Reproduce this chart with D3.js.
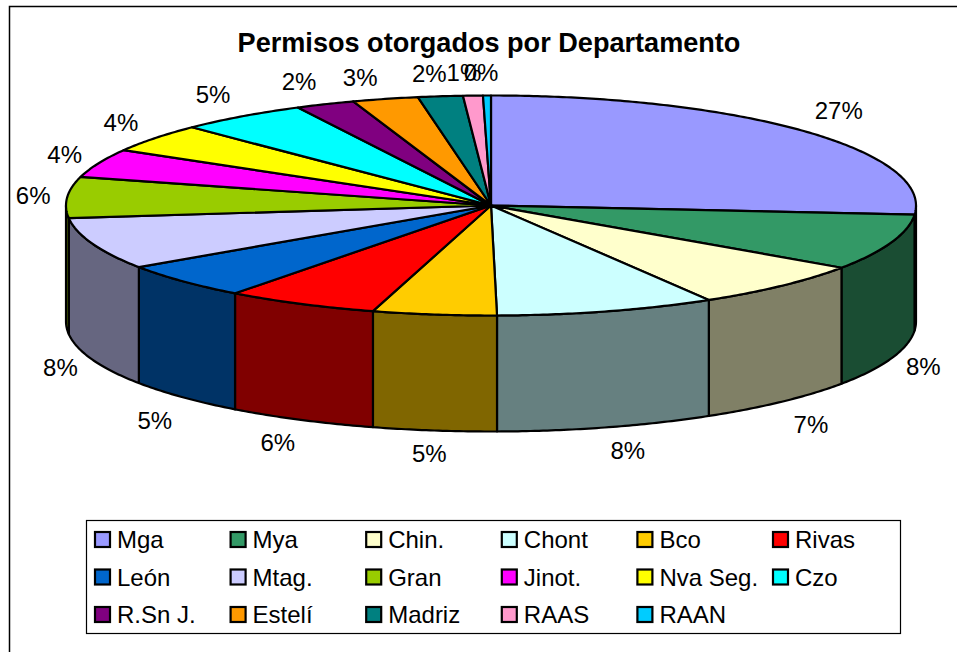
<!DOCTYPE html>
<html>
<head>
<meta charset="utf-8">
<style>
	html, body { margin: 0; padding: 0; background: #fff; overflow: hidden; }
	text { font-family: "Liberation Sans", Arial, sans-serif; fill: #000; }
</style>
<script src="https://cdn.jsdelivr.net/npm/d3@7"></script>
</head>
<body>
<svg id="chart" width="957" height="652"></svg>
<script>
var title = "Permisos otorgados por Departamento";

var categories = ["Mga", "Mya", "Chin.", "Chont", "Bco", "Rivas", "León", "Mtag.", "Gran", "Jinot.", "Nva Seg.", "Czo", "R.Sn J.", "Estelí", "Madriz", "RAAS", "RAAN"];
var values = [26.3, 8.23, 6.86, 8.33, 4.7, 5.8, 5.25, 7.62, 6.0, 4.2, 4.2, 4.9, 2.25, 2.5, 1.7, 0.75, 0.3];
var valueLabels = ["27%", "8%", "7%", "8%", "5%", "6%", "5%", "8%", "6%", "4%", "4%", "5%", "2%", "3%", "2%", "1%", "0%"];
var topColors = ["#9999ff", "#339966", "#ffffcc", "#ccffff", "#ffcc00", "#ff0000", "#0066cc", "#ccccff", "#99cc00", "#ff00ff", "#ffff00", "#00ffff", "#800080", "#ff9900", "#008080", "#ff99cc", "#00ccff"];

// label offset from the rim point of each slice
var labelOffsets = [[35, -20], [32, 8], [29, 23], [21, 23], [-5, 23], [-23, 23], [-28, 23], [-32, 8], [-34, -2], [-34, -9], [-34, -16], [-29, -22], [-26, -23], [-25, -21], [-11, -23], [-9, -23], [-6, -23]];

var svg = d3.select("#chart");

var cx = 491, cy = 205.5, rx = 425, ry = 110, depth = 116;
var xPos = d3.scaleLinear().domain([-1, 1]).range([cx - rx, cx + rx]);
var yPos = d3.scaleLinear().domain([-1, 1]).range([cy - ry, cy + ry]);

var slices = d3.pie().sort(null).value(function (d) { return d; })(values);

function rim(a, drop) {
	return [xPos(Math.sin(a)), yPos(-Math.cos(a)) + drop];
}

function arcPoints(a0, a1, drop) {
	var n = Math.max(2, Math.ceil((a1 - a0) / 0.01));
	return d3.range(n + 1).map(function (i) {
		return rim(a0 + (a1 - a0) * i / n, drop);
	});
}

function halfTone(c) {
	var rgb = d3.rgb(c);
	return d3.rgb(rgb.r / 2, rgb.g / 2, rgb.b / 2).formatHex();
}

var line = d3.line();

// frame
svg.append("path")
	.attr("d", "M9.5,652V6.5H957")
	.attr("fill", "none")
	.attr("stroke", "#000")
	.attr("stroke-width", 1.5);

svg.append("text")
	.attr("x", 489)
	.attr("y", 52)
	.attr("text-anchor", "middle")
	.attr("font-size", 27.1)
	.attr("font-weight", "bold")
	.text(title);

// walls, only the front half of the pie shows them
var walls = svg.append("g");
slices.forEach(function (s, i) {
	var a0 = Math.max(s.startAngle, Math.PI / 2);
	var a1 = Math.min(s.endAngle, Math.PI * 1.5);
	if (a1 <= a0) return;
	var pts = arcPoints(a0, a1, 0).concat(arcPoints(a0, a1, depth).reverse());
	walls.append("path")
		.attr("d", line(pts) + "Z")
		.attr("fill", halfTone(topColors[i]))
		.attr("stroke", "#000")
		.attr("stroke-width", 2.2)
		.attr("stroke-linejoin", "round");
});

// top face
var tops = svg.append("g");
slices.forEach(function (s, i) {
	var pts = [[xPos(0), yPos(0)]].concat(arcPoints(s.startAngle, s.endAngle, 0));
	tops.append("path")
		.attr("d", line(pts) + "Z")
		.attr("fill", topColors[i])
		.attr("stroke", "#000")
		.attr("stroke-width", 2.2)
		.attr("stroke-linejoin", "round");
});

// percentage labels
slices.forEach(function (s, i) {
	var mid = (s.startAngle + s.endAngle) / 2;
	var front = mid > Math.PI / 2 && mid < Math.PI * 1.5;
	var p = rim(mid, front ? depth : 0);
	svg.append("text")
		.attr("x", p[0] + labelOffsets[i][0])
		.attr("y", p[1] + labelOffsets[i][1])
		.attr("dy", "0.35em")
		.attr("text-anchor", "middle")
		.attr("font-size", 24)
		.text(valueLabels[i]);
});

// legend
svg.append("rect")
	.attr("x", 86.5)
	.attr("y", 520.5)
	.attr("width", 814)
	.attr("height", 113)
	.attr("fill", "#fff")
	.attr("stroke", "#000")
	.attr("stroke-width", 1.2);

var legendCol = d3.scalePoint().domain(d3.range(6)).range([94, 772]);
var legendRow = d3.scalePoint().domain(d3.range(3)).range([531, 606]);

categories.forEach(function (name, i) {
	var col = i % 6, row = Math.floor(i / 6);
	svg.append("rect")
		.attr("x", legendCol(col) + 1)
		.attr("y", legendRow(row) + 1)
		.attr("width", 15)
		.attr("height", 15)
		.attr("fill", topColors[i])
		.attr("stroke", "#000")
		.attr("stroke-width", 2.2);
	svg.append("text")
		.attr("x", legendCol(col) + 23)
		.attr("y", legendRow(row) + 8.5)
		.attr("dy", "0.36em")
		.attr("font-size", 24)
		.text(name);
});
</script>
</body>
</html>
